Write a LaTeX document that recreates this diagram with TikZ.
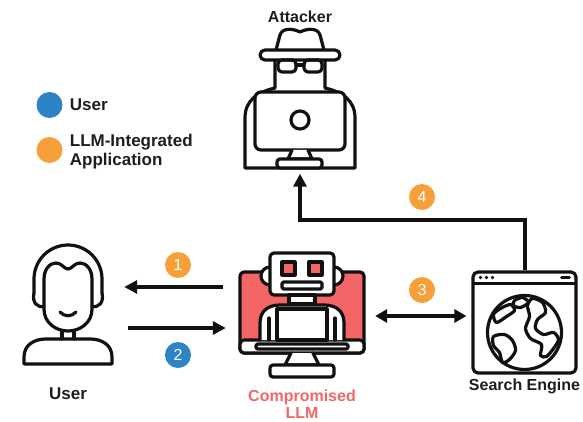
\documentclass[tikz,border=0pt]{standalone}
\usepackage{fontspec}
\setmainfont{Liberation Sans}
\usepackage{tikz}
\usetikzlibrary{positioning, arrows.meta, calc}
\definecolor{badgeorange}{HTML}{F7A03A}
\definecolor{badgeblue}{HTML}{2C83C6}
\definecolor{llmred}{HTML}{F46666}
\definecolor{inkblack}{HTML}{111111}
\definecolor{labelgray}{HTML}{1E1E1E}

\begin{document}
\begin{tikzpicture}[
  x=1pt, y=-1pt,
  iconbox/.style={minimum width=#1, minimum height=130pt, inner sep=0pt},
  icon/.style={line width=3.2pt, draw=inkblack, line join=round, line cap=round},
  lbl/.style={font=\fontsize{16}{18}\selectfont\bfseries, text=labelgray,
    inner sep=0pt, align=center},
  legenddot/.style={circle, minimum size=26pt, inner sep=0pt},
  legendtxt/.style={font=\fontsize{17}{19}\selectfont\bfseries, text=labelgray,
    inner sep=0pt, align=left},
  badge/.style={circle, minimum size=26pt, inner sep=0pt, text=white,
    font=\fontsize{16}{16}\selectfont},
  arr/.style={-{Triangle[length=13pt,width=13pt]}, line width=4pt, draw=inkblack},
  dblarr/.style={{Triangle[length=12pt,width=13pt]}-{Triangle[length=12pt,width=13pt]},
    line width=4pt, draw=inkblack},
]
\useasboundingbox (0,0) rectangle (583,422);

% icon frames
\node[iconbox=112pt] (user) at (68,315) {};
\node[iconbox=124pt] (llm) at (302,315) {};
\node[iconbox=110pt, minimum height=145pt] (attacker) at (300,98) {};
\node[icon, rounded corners=5pt, minimum width=103pt, minimum height=101pt,
  inner sep=0pt, fill=white] (search) at (524.5,322.5) {};

% user
\begin{scope}[shift={(user.center)}, icon]
  \draw (-34,-22) -- (-34,-36) arc[start angle=180, end angle=360, radius=34] -- (34,-22);
  \draw (-24,-22) -- (-24,-36) .. controls (-24,-46) and (-18,-52) .. (-12,-52)
    .. controls (-6,-52) and (-4,-46) .. (0,-46)
    .. controls (4,-46) and (6,-52) .. (12,-52)
    .. controls (18,-52) and (24,-46) .. (24,-36) -- (24,-6)
    .. controls (24,8) and (12,16) .. (0,16)
    .. controls (-12,16) and (-24,8) .. (-24,-6) -- cycle;
  \draw (-34,-22) .. controls (-36,-12) and (-31,-8) .. (-24,-8);
  \draw (34,-22) .. controls (36,-12) and (31,-8) .. (24,-8);
  \draw (-8,-3) .. controls (-4,2) and (4,2) .. (8,-3);
  \draw (-6,16) -- (-6,24);
  \draw (6,16) -- (6,24);
  \draw (-44,49) -- (-44,42) .. controls (-44,30) and (-34,24) .. (-22,24) -- (22,24)
    .. controls (34,24) and (44,30) .. (44,42) -- (44,49) -- cycle;
\end{scope}

% attacker
\begin{scope}[shift={(attacker.center)}, icon]
  \draw (-25,-38) -- (-25,-10) .. controls (-42,-6) and (-55,2) .. (-55,20) -- (-55,70)
    -- (55,70) -- (55,20) .. controls (55,2) and (42,-6) .. (25,-10) -- (25,-38);
  \draw (-24,-48) -- (-20,-63) .. controls (-18,-70) and (-8,-70) .. (0,-66)
    .. controls (8,-70) and (18,-70) .. (20,-63) -- (24,-48);
  \draw[fill=white, rounded corners=5pt] (-40,-48) rectangle (40,-38);
  \draw[rounded corners=4pt] (-22,-38) rectangle (-4,-26);
  \draw[rounded corners=4pt] (4,-38) rectangle (22,-26);
  \draw (-4,-33) -- (4,-33);
  \draw[fill=white, rounded corners=6pt] (-45,-6) rectangle (45,52);
  \draw (0,22) circle[radius=9];
  \draw[fill=white] (-8,52) -- (-12,61) -- (12,61) -- (8,52);
  \draw[fill=white, rounded corners=3pt] (-23,61) rectangle (22,70);
\end{scope}

% compromised llm
\begin{scope}[shift={(llm.center)}, icon]
  \draw[fill=llmred, rounded corners=4pt] (-62,-43) rectangle (62,38);
  \draw[fill=white, rounded corners=4pt] (-62,25) rectangle (62,38);
  \draw[fill=white, rounded corners=1.5pt] (-46,29) rectangle (46,34);
  \draw[fill=white] (-11,38) -- (-17,50) -- (17,50) -- (11,38);
  \draw[fill=white, rounded corners=3pt] (-32,50) rectangle (32,62);
  \draw[fill=white] (-32,-39) circle[radius=9];
  \draw[fill=white] (32,-39) circle[radius=9];
  \draw[fill=white, rounded corners=4pt] (-32,-62) rectangle (32,-20);
  \draw[fill=llmred] (-20,-53) rectangle (-7,-40);
  \draw[fill=llmred] (7,-53) rectangle (20,-40);
  \draw[fill=white, rounded corners=1.5pt] (-20,-33) rectangle (20,-26);
  \draw[fill=white] (-13,-20) rectangle (13,-11);
  \draw[fill=white] (-42,25) -- (-42,8) .. controls (-42,-4) and (-34,-10) .. (-22,-10)
    -- (22,-10) .. controls (34,-10) and (42,-4) .. (42,8) -- (42,25);
  \draw (-33,3) -- (-33,25);
  \draw (33,3) -- (33,25);
  \draw[fill=white] (-25,-6) rectangle (25,25);
\end{scope}

% search engine window
\begin{scope}[shift={(search.center)}, icon]
  \draw (-51,-39) -- (51,-39);
  \foreach \d in {-44,-38,-32}
    \fill[inkblack] (\d,-45) circle[radius=1.8];
  \draw[line width=2.6pt] (37,-45) -- (45,-45);
  \draw (0,10) circle[radius=37];
  \draw plot[smooth cycle] coordinates {(-31,-8) (-24,-14) (-14,-18) (-10,-12) (-18,-6) (-28,0)};
  \draw plot[smooth cycle] coordinates {(-10,-22) (-2,-25) (4,-20) (-4,-15) (-11,-17)};
  \draw plot[smooth cycle] coordinates {(8,-24) (18,-20) (21,-10) (13,-3) (11,6) (19,12)
    (29,10) (34,17) (29,26) (22,34) (16,33) (17,22) (6,16) (1,6) (5,-6) (3,-17)};
  \draw plot[smooth cycle] coordinates {(-31,14) (-20,12) (-12,18) (-9,28) (-15,37) (-22,40)
    (-25,30) (-31,23)};
\end{scope}

% flows between the parties
\draw[arr] ([xshift=-17pt,yshift=28pt]llm.west) -- ([yshift=28pt]user.east);
\draw[arr] ([xshift=4pt,yshift=-13pt]user.east) -- ([xshift=-14pt,yshift=-13pt]llm.west);
\draw[dblarr] ([xshift=11pt,yshift=-1pt]llm.east) -- ($(llm.east -| search.west)+(-5,1)$);
\draw[arr] (search.north) -- ++(0,-50) -| ([yshift=-3pt]attacker.south);

% step numbers
\foreach \n/\c/\x/\y in {1/badgeorange/178/265, 2/badgeblue/178/355,
  3/badgeorange/422/290, 4/badgeorange/422/197}
  \node[badge, fill=\c] (b\n) at (\x,\y) {\n};

% names under the icons
\node[lbl, above=2pt of attacker] (attackerlbl) {Attacker};
\node[lbl, font=\fontsize{17}{19}\selectfont\bfseries, below=7pt of user] (userlbl) {User};
\node[lbl, font=\fontsize{16}{17}\selectfont\bfseries, text=llmred, below=10pt of llm]
  (llmlbl) {Compromised\\LLM};
\node[lbl, below=4pt of search] (searchlbl) {Search Engine};

% legend
\node[legenddot, fill=badgeblue] (legu) at (49.5,105) {};
\node[legenddot, fill=badgeorange] (lega) at (49.5,150) {};
\node[legendtxt, right=7pt of legu] (legutxt) {User};
\node[legendtxt, right=7pt of lega, yshift=-2pt] (legatxt) {LLM-Integrated\\Application};
\end{tikzpicture}
\end{document}
